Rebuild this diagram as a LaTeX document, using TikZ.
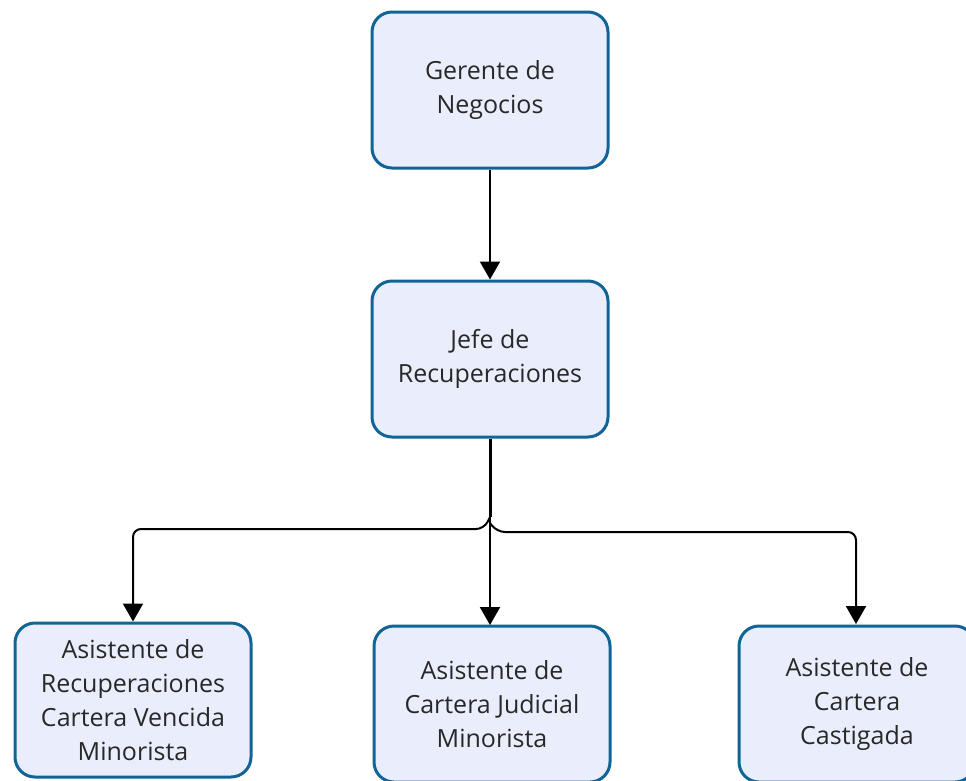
\documentclass[tikz,border=0pt]{standalone}
\usepackage{fontspec}
\setmainfont{Open Sans}
\usetikzlibrary{arrows.meta}
\definecolor{boxborder}{RGB}{16,100,150}
\definecolor{boxfill}{RGB}{234,238,252}
\definecolor{txt}{RGB}{40,40,40}
\tikzset{
  orgbox/.style={draw=boxborder, fill=boxfill, line width=3pt, rounded corners=20pt,
    minimum width=236pt, minimum height=156pt, align=center, text=txt,
    font=\fontsize{25pt}{34pt}\selectfont, inner sep=0pt},
  conn/.style={draw=black, line width=2pt, -{Triangle[width=20pt,length=18pt]}},
  trunk/.style={draw=black, line width=3pt}
}
\begin{document}
\begin{tikzpicture}[x=1pt,y=-1pt]
\useasboundingbox (0,0) rectangle (966,780);
\begin{scope}
\clip (0,0) rectangle (966,780);
\node[orgbox] (g) at (490,90) {Gerente de\\Negocios};
\node[orgbox] (j) at (490,359) {Jefe de\\Recuperaciones};
\node[orgbox, minimum height=154pt] (a1) at (133,700) {Asistente de\\Recuperaciones\\Cartera Vencida\\Minorista};
\node[orgbox] (a2) at (492,704) {Asistente de\\Cartera Judicial\\Minorista};
\node[orgbox] (a3) at (857,704) {Asistente de\\Cartera\\Castigada};
\coordinate (hop) at (490,517);
\draw[conn] (g.south) -- (g.south |- j.north);
\draw[trunk] (j.south) -- (hop);
\draw[conn] (hop) -- (490,625);
\draw[conn, rounded corners=8pt] (hop) -- (484,529) -- (133,529) -- (a1.north);
\draw[conn, rounded corners=8pt] (490,523) -- (497,532) -- (856,532) -- (856,624);
\end{scope}
\end{tikzpicture}
\end{document}
